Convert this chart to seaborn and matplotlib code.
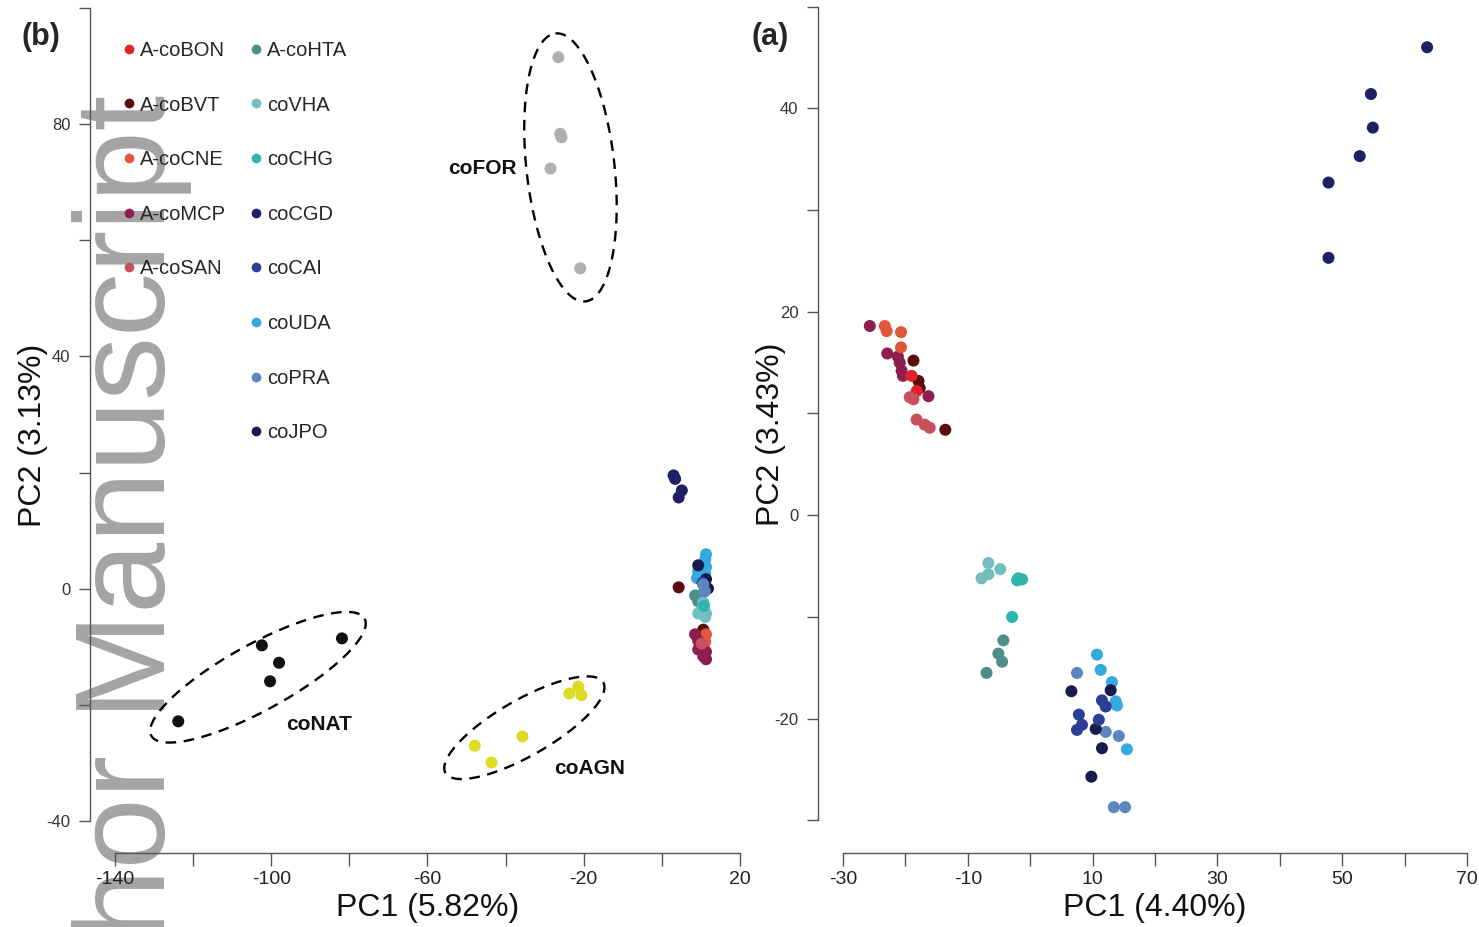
import numpy as np
import pandas as pd
import matplotlib.pyplot as plt
import matplotlib.lines as mlines
import seaborn as sns

# Groups shown in the legend and their colours
legend_groups = ['A-coBON', 'A-coBVT', 'A-coCNE', 'A-coMCP', 'A-coSAN',
                 'A-coHTA', 'coVHA', 'coCHG', 'coCGD', 'coCAI', 'coUDA', 'coPRA', 'coJPO']
legend_colors = ['#e0202c', '#5a0c0e', '#e0583a', '#8c1f4e', '#c8505e',
                 '#4e8e8a', '#74bebe', '#2db5ae', '#1f1f66', '#2b3f97', '#36a9e1', '#5b86c0', '#1a1a4e']
# Outgroups only in panel (b)
extra_groups = ['coNAT', 'coAGN', 'coFOR']
extra_colors = ['#111111', '#dcdc24', '#b0b0b0']

# Panel (b): PC1 5.82%, PC2 3.13%
b_group = (['coFOR'] * 5 + ['coNAT'] * 5 + ['coAGN'] * 6 + ['coCGD'] * 4
           + ['A-coBVT'] * 2 + ['A-coCNE'] * 2 + ['A-coBON'] + ['A-coMCP'] * 6 + ['A-coSAN']
           + ['A-coHTA'] * 3 + ['coVHA'] * 5 + ['coCHG']
           + ['coUDA'] * 7 + ['coJPO'] * 3 + ['coCAI'] + ['coPRA'] * 2)
b_pc1 = [-26.5, -26.0, -25.7, -28.5, -20.9,
         -123.8, -102.4, -98.0, -100.3, -81.9,
         -47.9, -43.6, -35.7, -23.7, -21.4, -20.6,
         3.0, 3.4, 5.1, 4.3,
         4.3, 10.6, 11.3, 11.1, 9.8, 8.5, 9.3, 9.3, 11.3, 11.3, 10.6, 10.2,
         8.5, 9.8, 9.3, 10.6, 10.2, 9.3, 11.3, 11.1, 10.8,
         11.3, 11.1, 10.2, 11.3, 9.3, 11.1, 9.0, 9.3, 11.3, 11.8, 10.4, 10.6, 11.0]
b_pc2 = [91.6, 78.4, 77.8, 72.4, 55.2,
         -22.9, -9.8, -12.8, -16.0, -8.6,
         -27.1, -30.0, -25.5, -18.1, -16.9, -18.4,
         19.5, 18.9, 16.9, 15.7,
         0.2, -7.1, -7.9, -9.2, -10.0, -7.9, -9.0, -10.5, -10.9, -12.2, -11.7, -9.5,
         -1.2, -1.2, -2.2, -2.4, -3.6, -4.3, -4.3, -4.9, -3.0,
         5.9, 5.0, 4.0, 3.7, 2.9, 2.6, 1.8, 4.0, 1.6, 0.0, 1.0, 0.7, -0.5]

# Panel (a): PC1 4.40%, PC2 3.43%
a_group = (['A-coMCP'] * 7 + ['A-coCNE'] * 4 + ['A-coBVT'] * 4 + ['A-coBON'] * 2 + ['A-coSAN'] * 5
           + ['coVHA'] * 4 + ['coCHG'] * 4 + ['A-coHTA'] * 4
           + ['coUDA'] * 6 + ['coPRA'] * 5 + ['coJPO'] * 5 + ['coCAI'] * 6 + ['coCGD'] * 6)
a_pc1 = [-25.7, -22.9, -21.2, -20.9, -20.6, -20.4, -16.3,
         -23.3, -23.0, -20.7, -20.7,
         -18.7, -17.9, -17.7, -13.6,
         -19.0, -18.2,
         -19.3, -18.7, -18.2, -16.9, -16.1,
         -6.7, -4.8, -7.8, -6.7,
         -1.9, -1.3, -2.1, -2.9,
         -4.3, -5.1, -4.5, -7.0,
         10.7, 11.3, 13.1, 13.7, 13.9, 15.5,
         7.5, 12.1, 14.2, 13.4, 15.2,
         6.6, 12.9, 10.5, 11.5, 9.8,
         11.5, 12.1, 7.8, 8.3, 7.5, 11.0,
         63.6, 54.6, 54.9, 52.8, 47.8, 47.8]
a_pc2 = [18.6, 15.9, 15.6, 15.0, 14.2, 13.7, 11.7,
         18.6, 18.1, 18.0, 16.5,
         15.2, 13.2, 12.5, 8.4,
         13.7, 12.2,
         11.6, 11.4, 9.4, 8.9, 8.6,
         -4.7, -5.3, -6.2, -5.8,
         -6.2, -6.3, -6.4, -10.0,
         -12.3, -13.6, -14.4, -15.5,
         -13.7, -15.2, -16.4, -18.3, -18.7, -23.0,
         -15.5, -21.3, -21.7, -28.7, -28.7,
         -17.3, -17.2, -21.0, -22.9, -25.7,
         -18.2, -18.8, -19.6, -20.6, -21.1, -20.1,
         46.0, 41.4, 38.1, 35.3, 32.7, 25.3]

# Dashed ellipses around outgroups in (b): centre, semi-axis vectors (data units)
ellipse_names = ['coFOR', 'coNAT', 'coAGN']
ellipse_centres = [(-23.4, 72.6), (-103.4, -15.3), (-35.2, -24.0)]
ellipse_major = [(-3.83, 23.1), (27.3, 10.1), (20.2, 7.8)]
ellipse_minor = [(11.2, 0.84), (4.05, -4.99), (3.55, -4.19)]
ellipse_label_pos = [(-45.9, 72.4), (-87.8, -23.4), (-18.6, -31.0)]

# labelled ticks on each axis
b_xlab = [-140, -100, -60, -20, 20]
b_ylab = [-40, 0, 40, 80]
a_xlab = [-30, -10, 10, 30, 50, 70]
a_ylab = [-20, 0, 20, 40]

palette = dict(zip(legend_groups + extra_groups, legend_colors + extra_colors))

df_b = pd.DataFrame({'group': b_group, 'PC1': b_pc1, 'PC2': b_pc2})
df_a = pd.DataFrame({'group': a_group, 'PC1': a_pc1, 'PC2': a_pc2})

sns.set_style('white')
plt.rcParams['font.family'] = ['Liberation Sans', 'DejaVu Sans']

fig = plt.figure(figsize=(14.79, 9.27), dpi=100)
ax_b = fig.add_axes([0.06085, 0.07983, 0.45639, 0.94606])
ax_a = fig.add_axes([0.55308, 0.07983, 0.45571, 0.94822])

for ax, df in [(ax_b, df_b), (ax_a, df_a)]:
    sns.scatterplot(data=df, x='PC1', y='PC2', hue='group', palette=palette,
                    s=75, linewidth=0, legend=False, ax=ax)


def style_axis(ax, xlim, ylim, xticks, yticks, xlab, ylab, xlabel, ylabel, ylab_x, xlab_y):
    ax.set_xlim(*xlim)
    ax.set_ylim(*ylim)
    for s in ['top', 'right']:
        ax.spines[s].set_visible(False)
    for s in ['left', 'bottom']:
        ax.spines[s].set_color('#555555')
        ax.spines[s].set_linewidth(1.0)
    ax.spines['bottom'].set_bounds(xticks[0], xticks[-1])
    ax.spines['left'].set_bounds(yticks[0], yticks[-1])
    ax.set_xticks(xticks)
    ax.set_xticklabels([str(v) if v in xlab else '' for v in xticks])
    ax.set_yticks(yticks)
    ax.set_yticklabels([str(v) if v in ylab else '' for v in yticks])
    ax.tick_params(axis='x', bottom=True, length=9, width=1, color='#555555', labelsize=14,
                   pad=4, labelcolor='#222222')
    ax.tick_params(axis='y', left=True, length=8, width=1, color='#555555', labelsize=12,
                   pad=6, labelcolor='#333333')
    ax.set_xlabel(xlabel, fontsize=23, color='#111111')
    ax.set_ylabel(ylabel, fontsize=23, color='#111111')
    ax.xaxis.set_label_coords(0.5, xlab_y)
    ax.yaxis.set_label_coords(ylab_x, 0.4766)
    ax.xaxis.label.set_va('center')
    ax.yaxis.label.set_va('center')
    ax.grid(False)
    ax.set_facecolor('none')


style_axis(ax_b, (-146.4, 26.4), (-45.6, 105.6), list(range(-140, 21, 20)), list(range(-40, 101, 20)),
           b_xlab, b_ylab, 'PC1 (5.82%)', 'PC2 (3.13%)', -0.0845, -0.0627)
style_axis(ax_a, (-34, 74), (-33.2, 53.2), list(range(-30, 71, 10)), list(range(-30, 51, 10)),
           a_xlab, a_ylab, 'PC1 (4.40%)', 'PC2 (3.43%)', -0.0690, -0.0626)

# dashed ellipses and outgroup labels
t = np.linspace(0, 2 * np.pi, 300)
for name, c, u, v, lp in zip(ellipse_names, ellipse_centres, ellipse_major, ellipse_minor, ellipse_label_pos):
    ex = c[0] + u[0] * np.cos(t) + v[0] * np.sin(t)
    ey = c[1] + u[1] * np.cos(t) + v[1] * np.sin(t)
    ax_b.plot(ex, ey, color='black', lw=1.7, ls=(0, (4.5, 3.2)))
    ax_b.text(lp[0], lp[1], name, fontsize=15, fontweight='bold', ha='center', va='center', color='#111111')

# legend: 5 entries in first column, 8 in second
handles, labels = [], []
for g, col in zip(legend_groups, legend_colors):
    handles.append(mlines.Line2D([], [], ls='none', marker='o', markersize=7, color=col, markeredgewidth=0))
    labels.append(g)
blank = mlines.Line2D([], [], ls='none', marker=None)
handles = handles[:5] + [blank] * 3 + handles[5:]
labels = labels[:5] + [''] * 3 + labels[5:]
ax_b.legend(handles, labels, loc='upper left', bbox_to_anchor=(0.0489, 0.926), ncol=2,
            frameon=False, fontsize=14.5, labelspacing=1.77, handlelength=0.6, handletextpad=0.25,
            columnspacing=1.2, borderaxespad=0, borderpad=0)

# panel letters
fig.text(41 / 1479, 1 - 37 / 927, '(b)', fontsize=22, fontweight='bold', ha='center', va='center')
fig.text(770 / 1479, 1 - 37 / 927, '(a)', fontsize=22, fontweight='bold', ha='center', va='center')

# manuscript watermark, behind the plots
fig.text(165 / 1479, 1 - 95 / 927, 'Author Manuscript', rotation=90, rotation_mode='anchor',
         ha='right', va='baseline', fontsize=92, color='#9a9a9a', alpha=0.9, zorder=-1)

fig.savefig('out.png', dpi=100, facecolor='white')
